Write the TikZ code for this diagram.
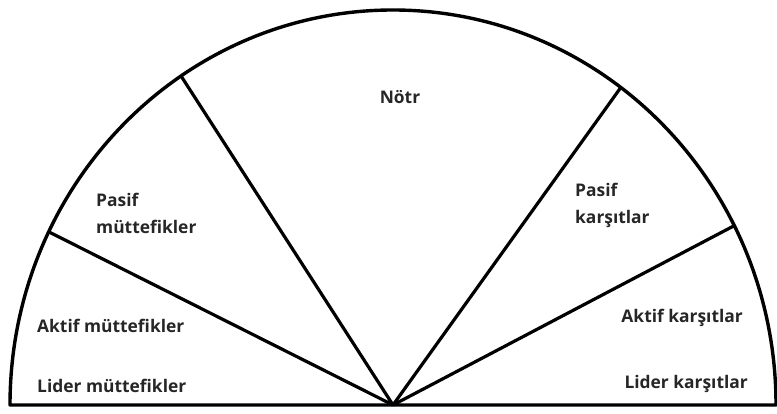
\documentclass[tikz,border=0pt]{standalone}
\usepackage{fontspec}
\setmainfont{Open Sans}
\usetikzlibrary{positioning}

\begin{document}
\begin{tikzpicture}[x=1pt,y=1pt,
  rim/.style={line width=3.4pt,line join=round},
  spoke/.style={line width=3.2pt},
  lbl/.style={font=\bfseries\fontsize{17.4}{27}\selectfont,inner sep=0pt,text=black!85},
  lblL/.style={lbl,anchor=west,align=left},
  lblR/.style={lbl,anchor=east,align=right}
]
\useasboundingbox (0,0) rectangle (777,414);
\coordinate (o) at (393,9);
\coordinate (e) at (776,9);
\coordinate (a1) at ([shift={(o)}]154:383 and 395);
\coordinate (a2) at ([shift={(o)}]123.6:383 and 395);
\coordinate (a3) at ([shift={(o)}]53.5:383 and 395);
\coordinate (a4) at ([shift={(o)}]27:383 and 395);
% half disc
\draw[rim] (e) arc[start angle=0,end angle=180,x radius=383,y radius=395] -- cycle;
% spokes
\draw[spoke] (o) -- (a1);
\draw[spoke] (o) -- (a2);
\draw[spoke] (o) -- (a3);
\draw[spoke] (o) -- (a4);
% sectors
\node[lbl] (notr) at (400,317) {Nötr};
\node[lblL] (pasifM) at (96,200.5) {Pasif\\müttefikler};
\node[lblL] (pasifK) at (575,208.5) {Pasif\\karşıtlar};
\node[lblL] (aktifM) at (37,88) {Aktif müttefikler};
\node[lblL] (liderM) at (37,28) {Lider müttefikler};
\node[lblR] (aktifK) at (743,96) {Aktif karşıtlar};
\node[lblR] (liderK) at (748,30) {Lider karşıtlar};
\end{tikzpicture}
\end{document}
